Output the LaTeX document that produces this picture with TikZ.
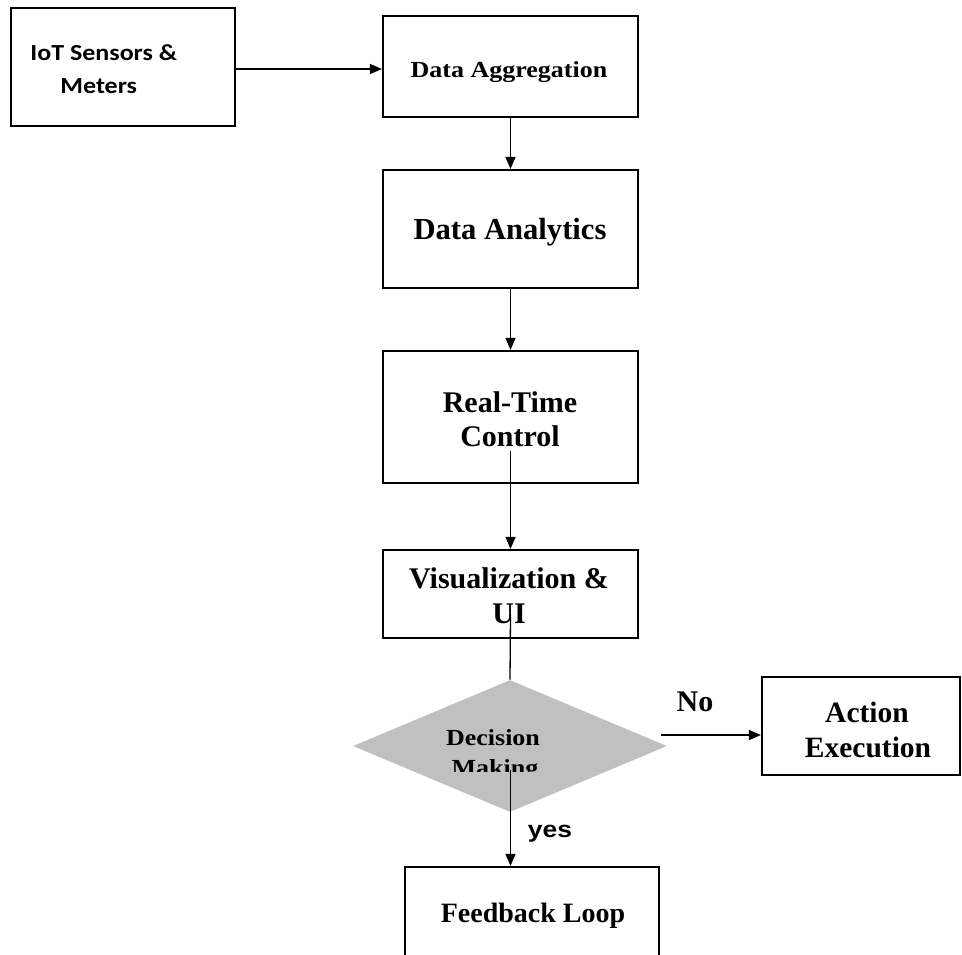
\documentclass[tikz,border=0pt]{standalone}
\usepackage{fontspec}
\usetikzlibrary{arrows.meta,shapes.geometric}
\newfontfamily\tnr{Liberation Serif}
\newfontfamily\tnrw{Liberation Serif}[FakeStretch=1.13]
\newfontfamily\carw{Carlito}[FakeStretch=1.13]
\newfontfamily\arw{Liberation Sans}[FakeStretch=1.15]
\definecolor{dgray}{HTML}{C0C0C0}
\begin{document}
\begin{tikzpicture}[x=0.5pt,y=-0.5pt,
  box/.style={draw=black,line width=1.1pt,inner sep=0pt,rectangle},
  conn/.style={line width=0.65pt,draw=black},
  arr/.style={conn,-{Triangle[length=6pt,width=5pt]}},
  lab/.style={anchor=base,inner sep=0pt},
  fsm/.style={font=\tnrw\bfseries\fontsize{11.5pt}{13pt}\selectfont},
  fbig/.style={font=\tnr\bfseries\fontsize{15pt}{17pt}\selectfont},
]
\useasboundingbox (0,0) rectangle (962,954);
\clip (0,0) rectangle (962,954);
\fill[white] (0,0) rectangle (962,954);

% boxes
\node[box,minimum width=112pt,minimum height=59pt] (iot) at (123,67) {};
\node[box,minimum width=127.5pt,minimum height=50.5pt] (da) at (510.5,66.5) {};
\node[box,minimum width=127.5pt,minimum height=59pt] (dan) at (510.5,229) {};
\node[box,minimum width=127.5pt,minimum height=66pt] (rt) at (510.5,417) {};
\node[box,minimum width=127.5pt,minimum height=44pt] (vis) at (510.5,594) {};
\node[diamond,fill=dgray,draw=none,inner sep=0pt,aspect=2.38,minimum width=157pt,minimum height=66pt] (dec) at (510,746) {};
\node[box,minimum width=99pt,minimum height=49pt] (act) at (861,726) {};
\node[box,minimum width=127pt,minimum height=66.5pt] (fb) at (532,933.5) {};

% texts
\node[lab,anchor=base west,font=\carw\bfseries\fontsize{11.5pt}{13pt}\selectfont] (t1a) at (30,60) {IoT Sensors \&};
\node[lab,anchor=base west,font=\carw\bfseries\fontsize{11.5pt}{13pt}\selectfont] (t1b) at (60,93) {Meters};
\node[lab,fsm] (t2) at (509,77) {Data Aggregation};
\node[lab,font=\tnr\bfseries\fontsize{15.3pt}{17pt}\selectfont] (t3) at (510,239) {Data Analytics};
\node[lab,fbig] (t4a) at (510,412) {Real-Time};
\node[lab,fbig] (t4b) at (510,446) {Control};
\node[lab,fbig] (t5a) at (509,588) {Visualization \&};
\node[lab,fbig] (t5b) at (509,623) {UI};
\node[lab,fsm] (t6a) at (493,745) {Decision};
\begin{scope}
\clip (0,0) rectangle (962,771);
\node[lab,fsm] (t6b) at (495,775) {Making};
\end{scope}
\node[lab,fbig] (tno) at (695,711) {No};
\node[lab,font=\tnr\bfseries\fontsize{14.75pt}{17pt}\selectfont] (t7a) at (867,722) {Action};
\node[lab,font=\tnr\bfseries\fontsize{14.75pt}{17pt}\selectfont] (t7b) at (868,757) {Execution};
\node[lab,font=\arw\bfseries\fontsize{11.5pt}{13pt}\selectfont] (tyes) at (550,837) {yes};
\node[lab,font=\tnr\bfseries\fontsize{14pt}{16pt}\selectfont] (t8) at (533,922) {Feedback Loop};

% connectors
\draw[arr] ([yshift=-1pt]iot.east) -- ([yshift=-1pt]iot.east -| da.west);
\draw[arr] (da.south) -- (dan.north);
\draw[arr] (dan.south) -- (rt.north);
\coordinate (rtc) at (510.5,451);
\draw[arr] (rtc) -- (vis.north);
\coordinate (visc) at (510.5,615);
\draw[conn] (visc) -- (dec.north);
\coordinate (decc) at (510.5,770);
\draw[arr] (decc) -- (decc |- fb.north);
\coordinate (nos) at (661,735);
\draw[arr] (nos) -- (nos -| act.west);
\end{tikzpicture}
\end{document}
